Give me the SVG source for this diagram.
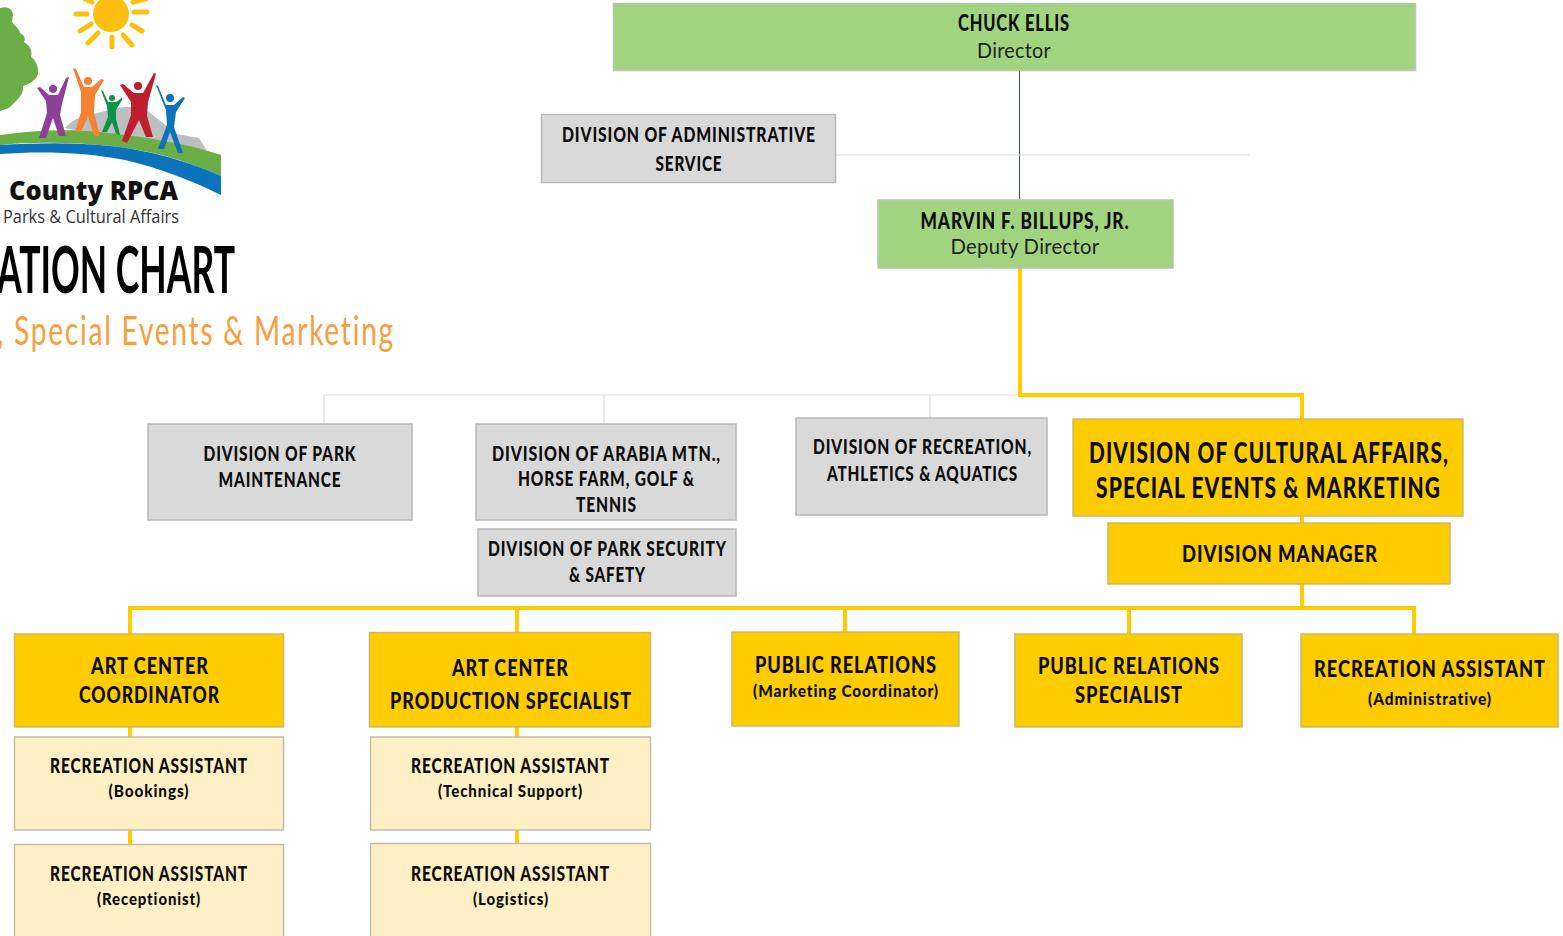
<svg xmlns="http://www.w3.org/2000/svg" width="1563" height="936" viewBox="0 0 1563 936">
<style>
text{font-family:Lato,"Liberation Sans",sans-serif;text-anchor:middle;fill:#0c0c0c;font-weight:900;font-size:20px;letter-spacing:1.1px}
.r{font-weight:400;fill:#222;font-size:21px;letter-spacing:.3px}
.l{font-size:23px;letter-spacing:1.2px}
.x{font-size:28px;letter-spacing:1.5px}
.s{font-size:17px;letter-spacing:1px}
.box{stroke-width:1.5}
.gr{fill:#a1d47f;stroke:#b9c4b2}
.g{fill:#d9d9d9;stroke:#b8b8b8}
.y{fill:#ffcc00;stroke:#cdb968}
.c{fill:#ffefc4;stroke:#c4bcaa}
.ly{fill:none;stroke:#ffcc00;stroke-width:4}
.lg{fill:none;stroke:#dcdcdc;stroke-width:1.2}
.ray{stroke:#fdc010;stroke-width:5;stroke-linecap:round}
.p{fill:none;stroke-linecap:round;stroke-linejoin:round}
.logo{text-anchor:start;font-family:"Open Sans","Liberation Sans",sans-serif;letter-spacing:0}
</style>
<g id="logo">
<path fill="#6aae45" d="M0 8C6 6 12 8 13 14L12 22C15 26 19 28 20 33 24 35 26 38 24 42 29 45 33 50 31 57 36 60 39 68 38 74 35 82 28 84 23 86 24 92 20 97 17 100L9 108 0 111Z"/>
<circle cx="111" cy="14" r="18" fill="#fdc010"/>
<path class="ray" d="M76 14H87M134 12H147M80 31L91 24M132 25L142 31M88 43L98 33M123 35L132 45M112 37V47M85 -1L92 2M133 2L146 -1"/>
<path fill="#bcbec0" d="M65 128C72 120 78 118 88 115 105 112 116 106 130 107 140 107 148 110 154 116L177 134 199 138 207 151 120 140Z"/>
<path fill="#6aae45" d="M0 135C35 130 70 129 100 132 145 137 185 143 221 155V176C185 160 150 150 110 146 70 142 30 142 0 145Z"/>
<path fill="#0b72bc" d="M0 145C35 143 75 142 110 146 150 150 190 162 221 176V195C190 180 160 168 125 160 85 152 40 151 0 154Z"/>
<g id="fig-purple"><circle cx="53" cy="89" r="4" fill="#8e3f97"/><path fill="#8e3f97" d="M37 88L40 87 49 95 58 95 66 78 69 77 62 104 60 115 66 136 59 136 53 118 46 138 39 138 47 113 46 101Z"/></g>
<g id="fig-orange"><circle cx="88" cy="81" r="4" fill="#f58232"/><path fill="#f58232" d="M73 68L76 69 84 87 92 87 101 79 104 80 95 95 94 113 100 136 94 136 88 116 81 132 75 132 81 112 81 92Z"/></g>
<g id="fig-green"><circle cx="112" cy="98" r="3" fill="#0d9347"/><path fill="#0d9347" d="M101 90L103 91 108 102 116 102 122 98 122 100 116 110 116 119 120 135 116 134 112 122 107 132 102 132 108 117 107 106Z"/></g>
<g id="fig-red"><circle cx="138" cy="86" r="4" fill="#be1e2d"/><path fill="#be1e2d" d="M120 85L123 84 134 93 143 93 154 73 156 74 148 102 147 116 153 137 146 137 139 120 127 143 122 141 131 115 131 102Z"/></g>
<g id="fig-blue"><circle cx="170" cy="98" r="4" fill="#0b72bc"/><path fill="#0b72bc" d="M156 85L158 86 166 105 174 105 183 97 185 98 176 112 174 127 183 153 178 153 170 132 164 149 158 149 167 125 166 110Z"/></g>
<text class="logo" x="9" y="200" textLength="169" lengthAdjust="spacingAndGlyphs" style="font-size:26px;fill:#111;font-weight:800">County RPCA</text>
<text class="logo" x="3" y="223" textLength="176" lengthAdjust="spacingAndGlyphs" style="font-size:19px;font-weight:400;fill:#333">Parks &amp; Cultural Affairs</text>
<text class="logo" x="-3" y="293" textLength="238" lengthAdjust="spacingAndGlyphs" style="font-size:65px;font-weight:700;fill:#000;font-family:Lato,sans-serif">ATION CHART</text>
<text class="logo" x="-3" y="345" textLength="398" lengthAdjust="spacingAndGlyphs" style="font-size:41px;font-weight:400;fill:#f99d3e;font-family:Lato,sans-serif;letter-spacing:2.5px">, Special Events &amp; Marketing</text>
</g>
<g id="connectors">
<path d="M1019.500 71V200" fill="none" stroke="#46564f" stroke-width="1.1"/>
<path class="lg" d="M835 155H1250M324 395H1020M324 395V424M604 395V424M930 395V418"/>
<path class="ly" d="M1020 268V395H1302V419M1302 516V523M1302 584V608M130 634V608H1414V634M517 608V632M845 608V632M1129 608V634M130 727V737M130 830V844M517 727V737M517 830V843"/>
</g>
<g id="n-ellis"><rect class="box gr" x="613.500" y="3.500" width="802" height="67"/><text class="l" x="1014" y="31" textLength="112" lengthAdjust="spacingAndGlyphs">CHUCK ELLIS</text><text class="r" x="1014" y="58" textLength="74" lengthAdjust="spacingAndGlyphs">Director</text></g>
<g id="n-admin"><rect class="box g" x="541.500" y="114.500" width="294" height="68"/><text x="689" y="142" textLength="254" lengthAdjust="spacingAndGlyphs">DIVISION OF ADMINISTRATIVE</text><text x="689" y="171" textLength="67" lengthAdjust="spacingAndGlyphs">SERVICE</text></g>
<g id="n-billups"><rect class="box gr" x="878" y="200" width="295" height="68"/><text class="l" x="1025" y="229" textLength="209" lengthAdjust="spacingAndGlyphs">MARVIN F. BILLUPS, JR.</text><text class="r" x="1025" y="254" textLength="149" lengthAdjust="spacingAndGlyphs">Deputy Director</text></g>
<g id="n-park"><rect class="box g" x="148" y="424" width="264" height="96"/><text x="280" y="461" textLength="153" lengthAdjust="spacingAndGlyphs">DIVISION OF PARK</text><text x="280" y="487" textLength="123" lengthAdjust="spacingAndGlyphs">MAINTENANCE</text></g>
<g id="n-arabia"><rect class="box g" x="476" y="424" width="260" height="96"/><text x="606.500" y="461" textLength="229" lengthAdjust="spacingAndGlyphs">DIVISION OF ARABIA MTN.,</text><text x="606.500" y="486" textLength="177" lengthAdjust="spacingAndGlyphs">HORSE FARM, GOLF &amp;</text><text x="606.500" y="512" textLength="61" lengthAdjust="spacingAndGlyphs">TENNIS</text></g>
<g id="n-security"><rect class="box g" x="478" y="529" width="258" height="67"/><text x="607.500" y="556" textLength="239" lengthAdjust="spacingAndGlyphs">DIVISION OF PARK SECURITY</text><text x="607.500" y="582" textLength="77" lengthAdjust="spacingAndGlyphs">&amp; SAFETY</text></g>
<g id="n-recreation"><rect class="box g" x="796" y="418" width="251" height="97"/><text x="922.500" y="454" textLength="219" lengthAdjust="spacingAndGlyphs">DIVISION OF RECREATION,</text><text x="922.500" y="481" textLength="191" lengthAdjust="spacingAndGlyphs">ATHLETICS &amp; AQUATICS</text></g>
<g id="n-cultural"><rect class="box y" x="1073" y="419" width="390" height="97"/><text class="x" x="1269" y="463" textLength="360" lengthAdjust="spacingAndGlyphs">DIVISION OF CULTURAL AFFAIRS,</text><text class="x" x="1268.500" y="498" textLength="345" lengthAdjust="spacingAndGlyphs">SPECIAL EVENTS &amp; MARKETING</text></g>
<g id="n-manager"><rect class="box y" x="1108" y="523" width="342" height="61"/><text class="l" x="1280" y="562" textLength="196" lengthAdjust="spacingAndGlyphs">DIVISION MANAGER</text></g>
<g id="n-artcoord"><rect class="box y" x="14.500" y="634" width="269" height="93"/><text class="l" x="150" y="674" textLength="118" lengthAdjust="spacingAndGlyphs">ART CENTER</text><text class="l" x="149.500" y="703" textLength="141" lengthAdjust="spacingAndGlyphs">COORDINATOR</text></g>
<g id="n-artprod"><rect class="box y" x="369.500" y="632.500" width="281" height="94.500"/><text class="l" x="510.500" y="676" textLength="117" lengthAdjust="spacingAndGlyphs">ART CENTER</text><text class="l" x="511" y="709" textLength="242" lengthAdjust="spacingAndGlyphs">PRODUCTION SPECIALIST</text></g>
<g id="n-pr"><rect class="box y" x="732" y="632" width="227" height="94"/><text class="l" x="846" y="673" textLength="182" lengthAdjust="spacingAndGlyphs">PUBLIC RELATIONS</text><text class="s" x="846" y="697" textLength="186" lengthAdjust="spacingAndGlyphs">(Marketing Coordinator)</text></g>
<g id="n-prspec"><rect class="box y" x="1015" y="634" width="227" height="93"/><text class="l" x="1129" y="674" textLength="182" lengthAdjust="spacingAndGlyphs">PUBLIC RELATIONS</text><text class="l" x="1129" y="703" textLength="108" lengthAdjust="spacingAndGlyphs">SPECIALIST</text></g>
<g id="n-raadmin"><rect class="box y" x="1301" y="634" width="257" height="93"/><text class="l" x="1430" y="677" textLength="232" lengthAdjust="spacingAndGlyphs">RECREATION ASSISTANT</text><text class="s" x="1430" y="705" textLength="124" lengthAdjust="spacingAndGlyphs">(Administrative)</text></g>
<g id="n-rabook"><rect class="box c" x="14.500" y="737" width="269" height="93"/><text x="149" y="773" textLength="198" lengthAdjust="spacingAndGlyphs">RECREATION ASSISTANT</text><text class="s" x="149" y="797" textLength="81" lengthAdjust="spacingAndGlyphs">(Bookings)</text></g>
<g id="n-ratech"><rect class="box c" x="370.500" y="737" width="280" height="93"/><text x="510.500" y="773" textLength="199" lengthAdjust="spacingAndGlyphs">RECREATION ASSISTANT</text><text class="s" x="510.500" y="797" textLength="145" lengthAdjust="spacingAndGlyphs">(Technical Support)</text></g>
<g id="n-rarecep"><rect class="box c" x="14.500" y="844.500" width="269" height="100"/><text x="149" y="881" textLength="198" lengthAdjust="spacingAndGlyphs">RECREATION ASSISTANT</text><text class="s" x="149" y="905" textLength="104" lengthAdjust="spacingAndGlyphs">(Receptionist)</text></g>
<g id="n-ralog"><rect class="box c" x="370.500" y="843.500" width="280" height="100"/><text x="510.500" y="881" textLength="199" lengthAdjust="spacingAndGlyphs">RECREATION ASSISTANT</text><text class="s" x="511" y="905" textLength="76" lengthAdjust="spacingAndGlyphs">(Logistics)</text></g>
</svg>
